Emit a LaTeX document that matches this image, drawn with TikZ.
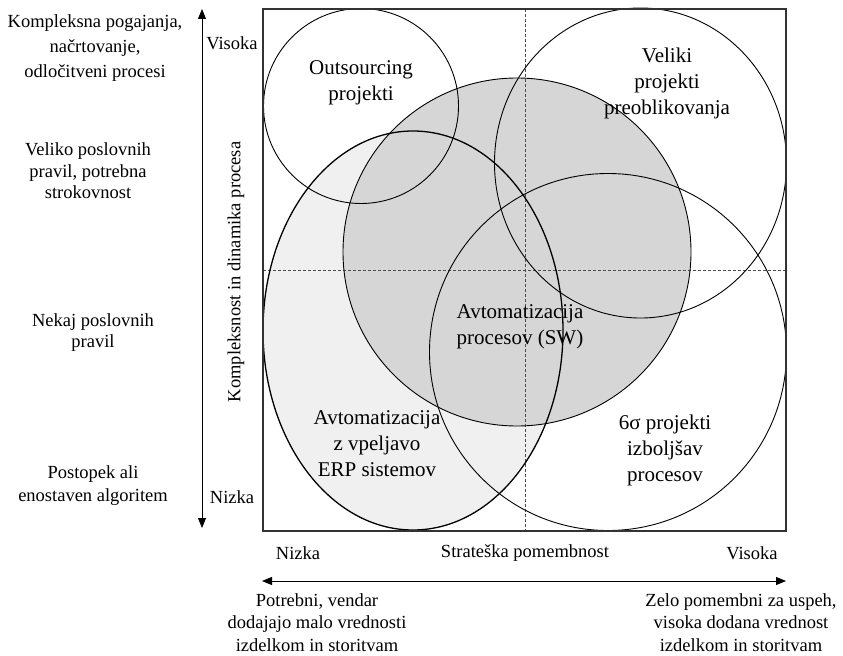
\documentclass[tikz,border=0pt]{standalone}
\usepackage{fontspec}
\setmainfont{Liberation Serif}
\usetikzlibrary{arrows.meta}
\definecolor{swfill}{HTML}{D6D6D6}
\definecolor{erpfill}{HTML}{F0F0F0}
\begin{document}
\begin{tikzpicture}[x=1bp,y=-1bp,
  outline/.style={draw=black, line width=0.9bp},
  erpline/.style={draw=black, line width=1.3bp},
  guide/.style={draw=black!70, line width=0.8bp, dash pattern=on 3bp off 2bp},
  frame/.style={draw=black!80, line width=1.5bp},
  twoway/.style={draw=black, line width=1bp,
    {Triangle[length=10bp,width=8bp]}-{Triangle[length=10bp,width=8bp]}},
  lbl/.style={align=center, inner sep=0pt, font=\fontsize{21bp}{26bp}\selectfont},
  axlbl/.style={align=center, inner sep=0pt, font=\fontsize{18.5bp}{23bp}\selectfont}]
\useasboundingbox (0,0) rectangle (843,656);
\fill[white] (0,0) rectangle (843,656);

% shaded regions: ERP ellipse below, software automation circle on top
\fill[erpfill] (413,330.5) ellipse [x radius=150, y radius=199.5];
\fill[swfill] (517,252) circle [radius=174];

% quadrant guides
\coordinate (gtop) at (525,9);
\coordinate (gbot) at (525,531);
\coordinate (gleft) at (263,270);
\coordinate (gright) at (786,270);
\draw[guide] (gtop) -- (gbot);
\draw[guide] (gleft) -- (gright);

% outlines of all sets
\draw[outline] (361,106) circle [radius=97.5];
\draw[outline] (517,252) circle [radius=174];
\draw[erpline] (413,330.5) ellipse [x radius=150, y radius=199.5];
\draw[outline] (640.5,163) ellipse [x radius=146, y radius=155];
\draw[outline] (608,352) circle [radius=178.5];

% frame
\draw[frame] (263,9) rectangle (786,531);

% set labels
\node[lbl] (outs) at (361,83) {Outsourcing\\projekti};
\node[lbl] (big) at (667,83) {Veliki\\projekti\\preoblikovanja};
\node[lbl] (sw) at (520,327) {Avtomatizacija\\procesov (SW)};
\node[lbl] (erp) at (377,444) {Avtomatizacija\\z vpeljavo\\ERP sistemov};
\node[lbl] (six) at (665,450) {6σ projekti\\izboljšav\\procesov};

% vertical axis
\coordinate (vtop) at (202,9);
\coordinate (vbot) at (202,528);
\draw[twoway] (vbot) -- (vtop);
\node[axlbl] (vhigh) at (232,43) {Visoka};
\node[axlbl] (vlow) at (232,497) {Nizka};
\node[axlbl, rotate=90] (vtitle) at (236,272) {Kompleksnost in dinamika procesa};

% horizontal axis
\coordinate (hleft) at (262,581);
\coordinate (hright) at (786,581);
\draw[twoway] (hleft) -- (hright);
\node[axlbl] (hlow) at (298,553) {Nizka};
\node[axlbl] (htitle) at (525,553) {Strateška pomembnost};
\node[axlbl] (hhigh) at (752,553) {Visoka};
\node[axlbl, font=\fontsize{18.5bp}{22.5bp}\selectfont] (hlowtxt) at (317,622.5) {Potrebni, vendar\\dodajajo malo vrednosti\\izdelkom in storitvam};
\node[axlbl, font=\fontsize{18.5bp}{22.5bp}\selectfont] (hhightxt) at (741,622.5) {Zelo pomembni za uspeh,\\visoka dodana vrednost\\izdelkom in storitvam};

% row descriptions
\node[axlbl, font=\fontsize{18.5bp}{25bp}\selectfont] (row1) at (95,48) {Kompleksna pogajanja,\\načrtovanje,\\odločitveni procesi};
\node[axlbl, font=\fontsize{18.5bp}{21.5bp}\selectfont] (row2) at (88,171) {Veliko poslovnih\\pravil, potrebna\\strokovnost};
\node[axlbl, font=\fontsize{18.5bp}{21bp}\selectfont] (row3) at (93,333) {Nekaj poslovnih\\pravil};
\node[axlbl] (row4) at (93,486) {Postopek ali\\enostaven algoritem};
\end{tikzpicture}
\end{document}
